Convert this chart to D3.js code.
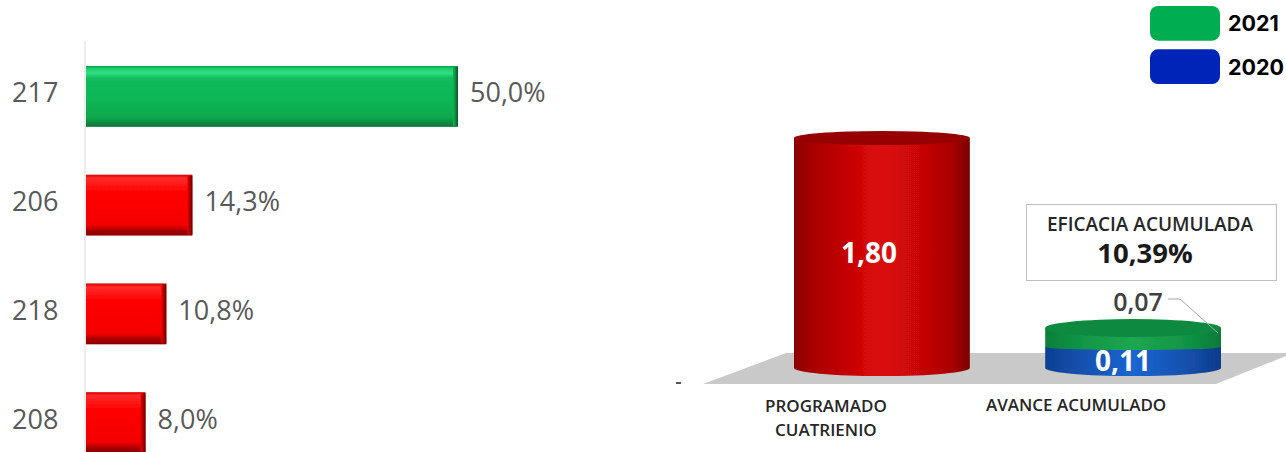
<!DOCTYPE html>
<html><head><meta charset="utf-8">
<script src="https://cdn.jsdelivr.net/npm/d3@7"></script>
<style>html,body{margin:0;padding:0;background:#fff;overflow:hidden}svg{display:block}text{font-family:"Open Sans",sans-serif}</style>
</head><body><div id="c"></div>
<script>
const barCategories=["217","206","218","208"];
const barValues=[50.0,14.3,10.8,8.0];
const barLabels=["50,0%","14,3%","10,8%","8,0%"];
const barColorKeys=["green","red","red","red"];
const cylCategories=["PROGRAMADO CUATRIENIO","AVANCE ACUMULADO"];
const programado=[1.80];
const avance2020=[0.11];
const avance2021=[0.07];
const legendYears=["2021","2020"];
const legendColors=["#00ad50","#0024b8"];

const W=1286,H=452;
const svg=d3.select("#c").append("svg").attr("width",W).attr("height",H).attr("viewBox",[0,0,W,H]);
const defs=svg.append("defs");
function lin(id,stops,h){const g=defs.append("linearGradient").attr("id",id)
  .attr("x1",0).attr("y1",0).attr("x2",h?1:0).attr("y2",h?0:1);
  stops.forEach(s=>g.append("stop").attr("offset",s[0]).attr("stop-color",s[1]));}
lin("bar-green",[[0,"#0c9f4c"],[.05,"#1fd070"],[.12,"#2fe083"],[.2,"#12bc5c"],[.55,"#0bb755"],[.85,"#0aa74c"],[.97,"#0b7e3c"],[1,"#0a7038"]]);
lin("bar-red",[[0,"#d80000"],[.06,"#ff2a2a"],[.2,"#ff1010"],[.3,"#ff0000"],[.82,"#f40000"],[.92,"#a50000"],[1,"#8a0000"]]);
lin("edge-green",[[0,"#0bb755"],[.5,"#0a8a40"],[1,"#064f26"]],true);
lin("edge-red",[[0,"#f00000"],[.5,"#a80000"],[1,"#6a0000"]],true);
lin("cyl-red",[[0,"#8c0000"],[.12,"#ab0000"],[.3,"#c40404"],[.45,"#d80808"],[.55,"#d80808"],[.72,"#c80606"],[.9,"#a80000"],[1,"#7c0000"]],true);
lin("cyl-green",[[0,"#0c7f3a"],[.2,"#119546"],[.5,"#1ea651"],[.8,"#119546"],[1,"#0b7a38"]],true);
lin("cyl-blue",[[0,"#0f3f94"],[.2,"#1450ae"],[.5,"#1a66d2"],[.8,"#1450ae"],[1,"#0e3b8c"]],true);
const soft=defs.append("filter").attr("id","soft").attr("x","-5%").attr("y","-5%").attr("width","110%").attr("height","110%");
soft.append("feGaussianBlur").attr("stdDeviation",0.5);

/* left chart */
const x=d3.scaleLinear().domain([0,50]).range([86,458]);
const y=d3.scaleBand().domain(barCategories).range([42,477]).paddingInner(0.44).paddingOuter(0.22);
const left=svg.append("g");
left.append("line").attr("x1",85).attr("x2",85).attr("y1",41).attr("y2",H).attr("stroke","#d9d9d9").attr("stroke-width",1);
const barG=left.selectAll("g.b").data(barValues).join("g").attr("class","b").attr("filter","url(#soft)");
barG.append("rect").attr("x",x(0)).attr("y",(d,i)=>y(barCategories[i])).attr("width",d=>x(d)-x(0)).attr("height",y.bandwidth())
  .attr("fill",(d,i)=>`url(#bar-${barColorKeys[i]})`);
barG.append("rect").attr("x",d=>x(d)-5).attr("y",(d,i)=>y(barCategories[i])+1).attr("width",5).attr("height",y.bandwidth()-2)
  .attr("fill",(d,i)=>`url(#edge-${barColorKeys[i]})`);
left.selectAll("text.cat").data(barCategories).join("text").attr("class","cat")
  .attr("x",12).attr("y",d=>y(d)+y.bandwidth()/2+6).attr("font-size",27).attr("fill","#595959").text(d=>d);
left.selectAll("text.val").data(barValues).join("text").attr("class","val")
  .attr("x",d=>x(d)+12).attr("y",(d,i)=>y(barCategories[i])+y.bandwidth()/2+6).attr("font-size",27).attr("fill","#595959").text((d,i)=>barLabels[i]);

/* right chart */
const floor=d3.line();
svg.append("path").attr("d",floor([[703,384],[786,353],[1286,353],[1286,356],[1216,384]])+"Z").attr("fill","#c9c9c9");
svg.append("rect").attr("x",676).attr("y",382).attr("width",5).attr("height",2).attr("fill","#555");

const cx=d3.scaleBand().domain(cylCategories).range([794,1221]).paddingInner(0.3);
// scale as drawn in the picture: the small values are exaggerated there
const v=d3.scaleLinear().domain([0,0.11,0.18,1.8]).range([368,347,328,138]);
function cyl(g,x0,w,yTop,yBot,rBot,fill){
  const rx=w/2;
  g.append("path").attr("d",`M${x0},${yTop}V${yBot}A${rx},${rBot} 0 0 0 ${x0+w},${yBot}V${yTop}Z`).attr("fill",fill);
}
const cG=svg.append("g").attr("filter","url(#soft)");
const c0=cylCategories[0],c1=cylCategories[1],bw=cx.bandwidth();
cyl(cG,cx(c0),bw,v(programado[0]),v(0),8,"url(#cyl-red)");
cG.append("ellipse").attr("cx",cx(c0)+bw/2).attr("cy",v(programado[0])).attr("rx",bw/2).attr("ry",7).attr("fill","#960000");
const tot=avance2020[0]+avance2021[0];
cyl(cG,cx(c1),bw,v(avance2020[0]),v(0),8,"url(#cyl-blue)");
cyl(cG,cx(c1),bw,v(tot),v(avance2020[0]),3,"url(#cyl-green)");
cG.append("ellipse").attr("cx",cx(c1)+bw/2).attr("cy",v(tot)).attr("rx",bw/2).attr("ry",9).attr("fill","#0d8a3f");

const fmt=d=>d.toFixed(2).replace(".",",");
svg.append("text").attr("x",cx(c0)+bw/2-13).attr("y",263).attr("text-anchor","middle").attr("font-size",28).attr("font-weight",700).attr("fill","#fff").text(fmt(programado[0]));
svg.append("text").attr("x",cx(c1)+bw/2-10).attr("y",371).attr("text-anchor","middle").attr("font-size",28).attr("font-weight",700).attr("fill","#fff").text(fmt(avance2020[0]));
svg.append("text").attr("x",1138).attr("y",311).attr("text-anchor","middle").attr("font-size",25).attr("font-weight",600).attr("fill","#404040").text(fmt(avance2021[0]));
svg.append("path").attr("d","M1168,299H1180L1218,333").attr("fill","none").attr("stroke","#a6a6a6").attr("stroke-width",1);

svg.append("rect").attr("x",1026.5).attr("y",204.5).attr("width",250).attr("height",76).attr("fill","#fff").attr("stroke","#bfbfbf");
svg.append("text").attr("x",1150).attr("y",231).attr("text-anchor","middle").attr("font-size",19).attr("font-weight",600).attr("fill","#262626").text("EFICACIA ACUMULADA");
svg.append("text").attr("x",1145).attr("y",263).attr("text-anchor","middle").attr("font-size",27.5).attr("font-weight",700).attr("fill","#1a1a1a").text("10,39%");

const cat=svg.append("g").attr("font-size",17).attr("font-weight",600).attr("fill","#262626").attr("text-anchor","middle");
cat.append("text").attr("x",cx(c0)+bw/2-56).attr("y",412).text(c0.split(" ")[0]);
cat.append("text").attr("x",cx(c0)+bw/2-56).attr("y",436).text(c0.split(" ")[1]);
cat.append("text").attr("x",cx(c1)+bw/2-57).attr("y",411).text(c1);

/* legend */
const ly=d3.scaleBand().domain(legendYears).range([6,84]).paddingInner(0.2);
svg.selectAll("rect.leg").data(legendYears).join("rect").attr("class","leg").attr("x",1150).attr("y",d=>ly(d)).attr("width",70).attr("height",ly.bandwidth()).attr("rx",8).attr("fill",(d,i)=>legendColors[i]);
svg.selectAll("text.leg").data(legendYears).join("text").attr("class","leg").attr("x",1228).attr("y",d=>ly(d)+ly.bandwidth()/2+8).style("font-family","Inter").attr("font-size",21.5).attr("font-weight",700).attr("fill","#000").text(d=>d);
</script></body></html>
